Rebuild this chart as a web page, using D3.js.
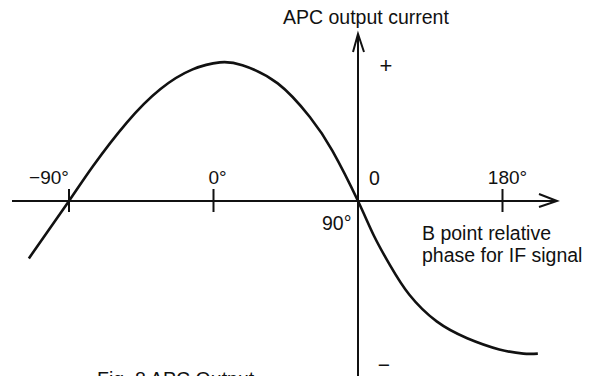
<!DOCTYPE html>
<html>
<head>
<meta charset="utf-8">
<script src="https://cdn.jsdelivr.net/npm/d3@7"></script>
<style>
  body { margin: 0; background: #fff; }
  text { font-family: "Liberation Sans", Arial, sans-serif; fill: #111; }
</style>
</head>
<body>
<div id="chart"></div>
<script>
// phase in degrees, APC output current in relative units
var phase = [-115, -90, -75, -54, -33, -13, 4, 18, 40, 60, 74, 90, 100, 110, 122, 139, 158, 178, 193, 202];
var current = [-0.41, 0, 0.25, 0.56, 0.80, 0.94, 0.99, 0.97, 0.84, 0.60, 0.36, 0, -0.25, -0.46, -0.67, -0.86, -0.98, -1.06, -1.09, -1.09];
var tickValues = [-90, 0, 180];
var tickLabels = ['\u221290\u00b0', '0\u00b0', '180\u00b0'];

var w = 596, h = 376;
var svg = d3.select('#chart').append('svg')
    .attr('width', w)
    .attr('height', h);

var x = d3.scaleLinear().domain([-90, 90]).range([69, 358]);
var y = d3.scaleLinear().domain([-1, 1]).range([341, 61]);

var x0 = x(90);   // y axis sits at 90 deg
var y0 = y(0);

var ink = '#111';

// horizontal axis + arrow
svg.append('line')
    .attr('x1', 12).attr('y1', y0)
    .attr('x2', 557).attr('y2', y0)
    .attr('stroke', ink).attr('stroke-width', 2);
svg.append('path')
    .attr('d', 'M539,' + (y0 - 7) + ' L557,' + y0 + ' L539,' + (y0 + 6))
    .attr('fill', 'none').attr('stroke', ink).attr('stroke-width', 2);

// vertical axis + arrow
svg.append('line')
    .attr('x1', x0).attr('y1', 34)
    .attr('x2', x0).attr('y2', h)
    .attr('stroke', ink).attr('stroke-width', 2);
svg.append('path')
    .attr('d', 'M' + (x0 - 5) + ',52 L' + x0 + ',34 L' + (x0 + 6) + ',52')
    .attr('fill', 'none').attr('stroke', ink).attr('stroke-width', 2);

// ticks
svg.selectAll('.tick')
    .data(tickValues)
    .enter()
    .append('line')
    .attr('class', 'tick')
    .attr('x1', function (d) { return x(d); })
    .attr('x2', function (d) { return x(d); })
    .attr('y1', y0 - 12)
    .attr('y2', y0 + 11)
    .attr('stroke', ink)
    .attr('stroke-width', 2);

var dx = [-20, 4, 5];
svg.selectAll('.tlabel')
    .data(tickValues)
    .enter()
    .append('text')
    .attr('class', 'tlabel')
    .attr('x', function (d, i) { return x(d) + dx[i]; })
    .attr('y', y0 - 17)
    .attr('text-anchor', 'middle')
    .attr('font-size', '19px')
    .text(function (d, i) { return tickLabels[i]; });

// curve
var pts = phase.map(function (p, i) { return [p, current[i]]; });
var line = d3.line()
    .x(function (d) { return x(d[0]); })
    .y(function (d) { return y(d[1]); })
    .curve(d3.curveNatural);
svg.append('path')
    .datum(pts)
    .attr('d', line)
    .attr('fill', 'none')
    .attr('stroke', ink)
    .attr('stroke-width', 2.6);

// labels
var labels = [
    ['APC output current', 283, 24],
    ['0', x0 + 11, y0 - 16],
    ['90\u00b0', x0 - 36, y0 + 29],
    ['B point relative', 422, 240],
    ['phase for IF signal', 422, 262],
    ['Fig. 8  APC Output', 97, 386]
];
svg.selectAll('.lbl')
    .data(labels)
    .enter()
    .append('text')
    .attr('class', 'lbl')
    .attr('x', function (d) { return d[1]; })
    .attr('y', function (d) { return d[2]; })
    .attr('font-size', '19.5px')
    .text(function (d) { return d[0]; });

svg.append('text')
    .attr('x', x0 + 28).attr('y', 73)
    .attr('text-anchor', 'middle')
    .attr('font-size', '22px')
    .attr('font-weight', 300)
    .text('+');
svg.append('text')
    .attr('x', x0 + 26).attr('y', 372)
    .attr('text-anchor', 'middle')
    .attr('font-size', '21px')
    .text('\u2212');
</script>
</body>
</html>
